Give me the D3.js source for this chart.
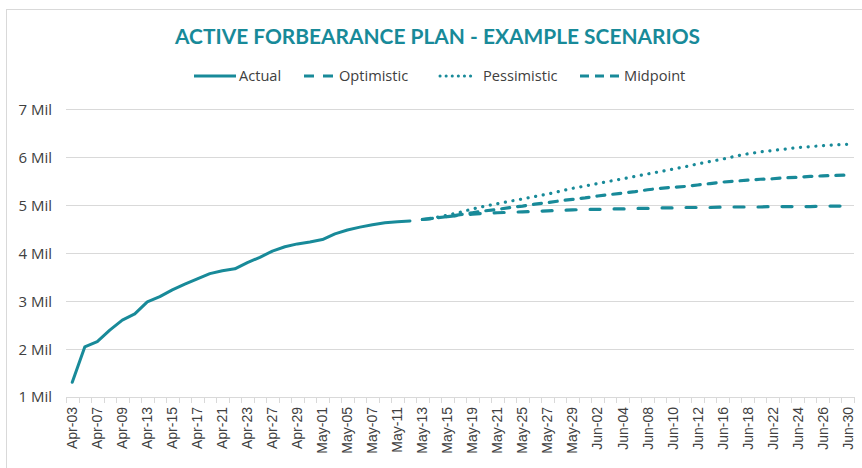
<!DOCTYPE html>
<html><head><meta charset="utf-8">
<script src="https://cdn.jsdelivr.net/npm/d3@7"></script>
<style>body{margin:0;background:#fff;} svg{display:block;}</style>
</head><body>
<svg id="chart" width="862" height="468"></svg>
<script>
const dates = ["Apr-03","Apr-06","Apr-07","Apr-08","Apr-09","Apr-10","Apr-13","Apr-14","Apr-15","Apr-16","Apr-17","Apr-20","Apr-21","Apr-22","Apr-23","Apr-24","Apr-27","Apr-28","Apr-29","Apr-30","May-01","May-04","May-05","May-06","May-07","May-08","May-11","May-12","May-13","May-14","May-15","May-18","May-19","May-20","May-21","May-22","May-25","May-26","May-27","May-28","May-29","Jun-01","Jun-02","Jun-03","Jun-04","Jun-05","Jun-08","Jun-09","Jun-10","Jun-11","Jun-12","Jun-15","Jun-16","Jun-17","Jun-18","Jun-19","Jun-22","Jun-23","Jun-24","Jun-25","Jun-26","Jun-29","Jun-30"];
const tickLabels = ["Apr-03","Apr-07","Apr-09","Apr-13","Apr-15","Apr-17","Apr-21","Apr-23","Apr-27","Apr-29","May-01","May-05","May-07","May-11","May-13","May-15","May-19","May-21","May-25","May-27","May-29","Jun-02","Jun-04","Jun-08","Jun-10","Jun-12","Jun-16","Jun-18","Jun-22","Jun-24","Jun-26","Jun-30"];
// values in millions
const actual = [1.30,2.04,2.15,2.39,2.60,2.73,2.98,3.09,3.23,3.35,3.46,3.57,3.63,3.67,3.80,3.91,4.04,4.13,4.19,4.23,4.28,4.40,4.48,4.54,4.59,4.63,4.65,4.67];
const scenarioDates = dates.slice(28);
const optimistic = [4.70,4.73,4.76,4.79,4.81,4.83,4.84,4.85,4.86,4.87,4.88,4.89,4.90,4.91,4.91,4.92,4.92,4.93,4.93,4.94,4.94,4.95,4.95,4.95,4.96,4.96,4.96,4.96,4.97,4.97,4.97,4.97,4.98,4.98,4.98];
const pessimistic = [4.70,4.74,4.79,4.85,4.92,4.98,5.03,5.08,5.13,5.18,5.23,5.29,5.35,5.40,5.45,5.50,5.55,5.60,5.65,5.70,5.75,5.80,5.86,5.91,5.96,6.02,6.07,6.11,6.14,6.17,6.20,6.22,6.24,6.26,6.27];
const midpoint = [4.70,4.73,4.76,4.80,4.84,4.88,4.91,4.95,4.98,5.02,5.05,5.09,5.12,5.15,5.19,5.22,5.25,5.28,5.32,5.35,5.37,5.39,5.42,5.45,5.48,5.50,5.52,5.54,5.55,5.57,5.58,5.60,5.61,5.62,5.63];
const yTicks = [1,2,3,4,5,6,7];
const title = "ACTIVE FORBEARANCE PLAN - EXAMPLE SCENARIOS";

(function(){
const teal = "#188a99";
const textCol = "#404040";
const gridCol = "#d9d9d9";

const svg = d3.select("#chart");
svg.append("rect").attr("x",6.5).attr("y",9.5).attr("width",900).attr("height",500)
  .attr("fill","none").attr("stroke","#d9d9d9").attr("stroke-width",1);

const pL = 66, pR = 854, pT = 109.3, pB = 396.7;
const x = d3.scaleBand().domain(dates).range([pL, pR]).paddingInner(0).paddingOuter(0);
const y = d3.scaleLinear().domain([1,7]).range([pB, pT]);

svg.append("text").attr("x",437.5).attr("y",44).attr("text-anchor","middle")
  .attr("font-family","Lato, 'Open Sans', sans-serif").attr("font-weight","bold")
  .attr("font-size",20).attr("fill",teal)
  .attr("textLength",525).attr("lengthAdjust","spacingAndGlyphs")
  .text(title);

svg.append("g").selectAll("line").data(yTicks.filter(d=>d>1)).join("line")
  .attr("x1",pL).attr("x2",pR).attr("y1",d=>Math.round(y(d))+0.5).attr("y2",d=>Math.round(y(d))+0.5)
  .attr("stroke",gridCol).attr("stroke-width",1);

const yAxis = d3.axisLeft(y).tickValues(yTicks).tickSize(0).tickPadding(0).tickFormat(d=>d+" Mil");
const gy = svg.append("g").attr("transform",`translate(52,0)`).call(yAxis);
gy.select(".domain").remove();
gy.selectAll("text").attr("font-family","'Open Sans', sans-serif").attr("font-size",15).attr("fill",textCol).attr("dy","0.35em");

const gx = svg.append("g");
gx.append("line").attr("x1",pL).attr("x2",pR).attr("y1",Math.round(pB)+0.5).attr("y2",Math.round(pB)+0.5)
  .attr("stroke",gridCol).attr("stroke-width",1);
const bounds = dates.map(d=>x(d)).concat([x(dates[dates.length-1])+x.bandwidth()]);
gx.selectAll("line.tk").data(bounds).join("line").attr("class","tk")
  .attr("x1",d=>Math.round(d)+0.5).attr("x2",d=>Math.round(d)+0.5)
  .attr("y1",Math.round(pB)).attr("y2",Math.round(pB)+6)
  .attr("stroke",gridCol).attr("stroke-width",1);
gx.selectAll("text").data(tickLabels).join("text")
  .attr("transform",d=>`translate(${x(d)+x.bandwidth()/2},407) rotate(-90)`)
  .attr("text-anchor","end").attr("dy","0.35em")
  .attr("font-family","'Liberation Sans', Arial, sans-serif").attr("font-size",14).attr("fill",textCol)
  .text(d=>d);

const line = d3.line().x(d=>x(d[0])+x.bandwidth()/2).y(d=>y(d[1]));

svg.append("path").datum(actual.map((v,i)=>[dates[i],v]))
  .attr("d",line).attr("fill","none").attr("stroke",teal).attr("stroke-width",3).attr("stroke-linejoin","round").attr("stroke-linecap","round");
svg.append("path").datum(optimistic.map((v,i)=>[scenarioDates[i],v]))
  .attr("d",line).attr("fill","none").attr("stroke",teal).attr("stroke-width",3.2).attr("stroke-dasharray","10,14").attr("stroke-linecap","round");
svg.append("path").datum(pessimistic.map((v,i)=>[scenarioDates[i],v]))
  .attr("d",line).attr("fill","none").attr("stroke",teal).attr("stroke-width",3.2).attr("stroke-dasharray","0.1,7.6").attr("stroke-linecap","round");
svg.append("path").datum(midpoint.map((v,i)=>[scenarioDates[i],v]))
  .attr("d",line).attr("fill","none").attr("stroke",teal).attr("stroke-width",3.2).attr("stroke-dasharray","8,8").attr("stroke-linecap","round");

const legend = [
  {name:"Actual", x1:194, x2:236, dash:null, w:3, tx:239},
  {name:"Optimistic", x1:304, x2:334, dash:"10,9", w:3.2, tx:339},
  {name:"Pessimistic", x1:440, x2:471, dash:"0.1,6", w:3, tx:483},
  {name:"Midpoint", x1:580, x2:619, dash:"9,6", w:3.2, tx:624}
];
const lg = svg.append("g");
legend.forEach(l=>{
  lg.append("line").attr("x1",l.x1).attr("x2",l.x2).attr("y1",76).attr("y2",76)
    .attr("stroke",teal).attr("stroke-width",l.w).attr("stroke-dasharray",l.dash)
    .attr("stroke-linecap", l.dash && l.dash.startsWith("0.1") ? "round" : "butt");
  lg.append("text").attr("x",l.tx).attr("y",76).attr("dy","0.35em")
    .attr("font-family","'Open Sans', sans-serif").attr("font-size",14.6).attr("fill",textCol).text(l.name);
});
})();
</script>
</body></html>
